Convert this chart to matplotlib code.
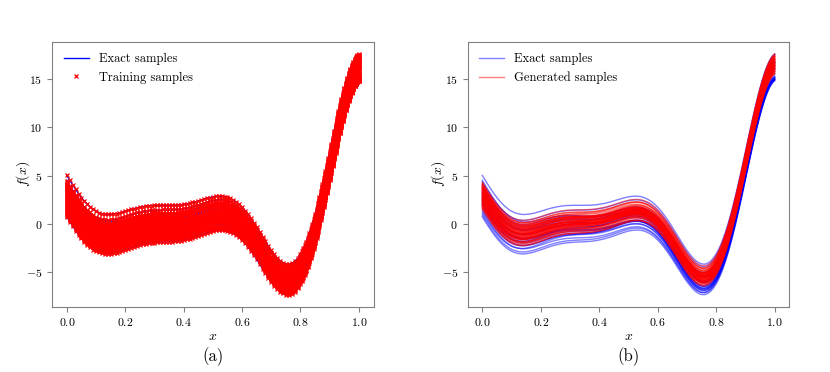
import matplotlib
matplotlib.use("Agg")
import matplotlib.pyplot as plt
import numpy as np

plt.rcParams['font.family'] = 'serif'
plt.rcParams['font.serif'] = ['cmr10', 'DejaVu Serif']
plt.rcParams['mathtext.fontset'] = 'cm'
plt.rcParams['axes.formatter.use_mathtext'] = True
plt.rcParams['axes.unicode_minus'] = True

# x positions of the samples
x_grid = [0.00, 0.01, 0.02, 0.03, 0.04, 0.05, 0.06, 0.07, 0.08, 0.09,
          0.10, 0.11, 0.12, 0.13, 0.14, 0.15, 0.16, 0.17, 0.18, 0.19,
          0.20, 0.21, 0.22, 0.23, 0.24, 0.25, 0.26, 0.27, 0.28, 0.29,
          0.30, 0.31, 0.32, 0.33, 0.34, 0.35, 0.36, 0.37, 0.38, 0.39,
          0.40, 0.41, 0.42, 0.43, 0.44, 0.45, 0.46, 0.47, 0.48, 0.49,
          0.50, 0.51, 0.52, 0.53, 0.54, 0.55, 0.56, 0.57, 0.58, 0.59,
          0.60, 0.61, 0.62, 0.63, 0.64, 0.65, 0.66, 0.67, 0.68, 0.69,
          0.70, 0.71, 0.72, 0.73, 0.74, 0.75, 0.76, 0.77, 0.78, 0.79,
          0.800, 0.805, 0.810, 0.815, 0.820, 0.825, 0.830, 0.835, 0.840, 0.845,
          0.850, 0.855, 0.860, 0.865, 0.870, 0.875, 0.880, 0.885, 0.890, 0.895,
          0.900, 0.905, 0.910, 0.915, 0.920, 0.925, 0.930, 0.935, 0.940, 0.945,
          0.950, 0.955, 0.960, 0.965, 0.970, 0.975, 0.980, 0.985, 0.990, 0.995,
          1.000]
# central curve of the sample band
base_curve = [3.03, 2.53, 2.05, 1.58, 1.14, 0.74, 0.37, 0.05, -0.23, -0.47,
              -0.66, -0.80, -0.90, -0.96, -0.99, -0.98, -0.94, -0.89, -0.82, -0.73,
              -0.64, -0.55, -0.45, -0.36, -0.28, -0.21, -0.15, -0.10, -0.06, -0.03,
              -0.02, -0.01, 0.00, 0.00, 0.00, 0.00, 0.01, 0.02, 0.04, 0.07,
              0.12, 0.17, 0.23, 0.31, 0.39, 0.48, 0.58, 0.67, 0.76, 0.84,
              0.91, 0.96, 0.98, 0.98, 0.95, 0.87, 0.76, 0.60, 0.40, 0.15,
              -0.15, -0.49, -0.87, -1.29, -1.74, -2.21, -2.70, -3.19, -3.68, -4.16,
              -4.61, -5.01, -5.37, -5.66, -5.87, -5.99, -6.02, -5.93, -5.73, -5.40,
              -4.95, -4.67, -4.37, -4.03, -3.66, -3.25, -2.82, -2.36, -1.87, -1.35,
              -0.80, -0.23, 0.37, 0.98, 1.62, 2.27, 2.94, 3.62, 4.31, 5.01,
              5.71, 6.42, 7.12, 7.82, 8.51, 9.19, 9.86, 10.50, 11.12, 11.73,
              12.30, 12.85, 13.35, 13.83, 14.26, 14.65, 14.99, 15.28, 15.52, 15.70,
              15.83]

# per-sample shift from the central curve at x=0 and at x=1
exact_shift_left = [2.0, 1.3, 1.0, 0.6, 0.3, 0.0, -0.3, -0.5, -0.7, -0.9,
                    -1.1, -1.3, -1.5, -1.7, -1.9, -2.1, -2.3, 0.9, -0.1, 1.5,
                    -0.4, -1.0, 0.2, -0.6]
exact_shift_right = [1.8, 1.7, 0.5, -0.8, 1.2, -0.6, 0.8, -0.9, 0.3, -0.5,
                     1.0, -0.7, 0.0, -0.9, 0.6, -0.8, -1.0, -0.3, 0.2, -0.6,
                     -0.8, -0.9, 0.9, -0.7]

train_shift_left = [2.0, 1.4, 1.3, 1.2, 1.1, 1.0, 0.9, 0.8, 0.7, 0.6,
                    0.5, 0.4, 0.3, 0.2, 0.1, 0.0, -0.1, -0.2, -0.3, -0.4,
                    -0.5, -0.6, -0.7, -0.8, -0.9, -1.0, -1.1, -1.2, -1.3, -1.4,
                    -1.5, -1.6, -1.7, -1.8, -1.9, -2.0, -2.1, -2.2, -2.3, 0.85]
train_shift_right = [1.8, 1.7, -0.9, 0.4, 1.2, -0.4, 0.9, -0.7, 0.1, 1.5,
                     -1.0, 0.6, -0.2, 1.6, -0.8, 0.3, 1.1, -0.5, 0.7, -0.9,
                     1.4, 0.0, -0.6, 1.0, 0.5, -0.8, 1.3, -0.3, 0.8, -1.0,
                     0.2, 1.6, -0.7, 0.4, -0.9, 1.1, -0.5, 0.6, -1.0, 1.7]

gen_shift_left = [1.3, 1.2, 1.1, 1.0, 0.9, 0.8, 0.75, 0.7, 0.6, 0.55,
                  0.5, 0.4, 0.35, 0.3, 0.2, 0.15, 0.1, 0.05, 0.0, -0.05,
                  -0.1, -0.15, -0.2, -0.3, -0.35, -0.4, -0.5, -0.55, -0.6, -0.7,
                  -0.75, -0.8, -0.9, -1.0, -1.1, -1.2, 0.45, -0.25, 0.25, -0.45,
                  -1.3, -1.4, -1.5, -0.65, -0.85, 0.65, 0.85, -1.15, -0.95, 1.05]
gen_shift_right = [1.8, 0.2, 1.5, 0.0, 1.2, 0.6, 1.7, -0.2, 0.9, 0.4,
                   1.4, -0.3, 0.7, 1.1, 0.1, 1.6, 0.5, 0.8, -0.1, 0.3,
                   1.0, 0.2, 1.3, 0.6, 0.9, 1.5, 0.4, 1.1, 0.0, 0.7,
                   1.2, 0.3, 1.6, -0.2, 0.8, 0.5, 1.0, 1.3, 0.6, 0.9,
                   0.4, 0.0, 0.2, 1.4, 0.9, 1.0, 0.5, 0.7, 1.2, 1.5]

xg = np.array(x_grid)
bc = np.array(base_curve)

def sample(a, b):
    return bc + a * (1 - xg) + b * xg

fig = plt.figure(figsize=(8.3, 3.72), dpi=100)
ax1 = fig.add_axes([0.063, 0.1755, 0.387, 0.712])
ax2 = fig.add_axes([0.5635, 0.1755, 0.3875, 0.712])

# Panel (a)
for i, (a, b) in enumerate(zip(exact_shift_left, exact_shift_right)):
    ax1.plot(xg, sample(a, b), color='blue', lw=1,
             label='Exact samples' if i == 0 else None)
for i, (a, b) in enumerate(zip(train_shift_left, train_shift_right)):
    ax1.plot(xg, sample(a, b), 'x', color='red', ms=3.5, mew=0.9,
             label='Training samples' if i == 0 else None)

# Panel (b)
for i, (a, b) in enumerate(zip(exact_shift_left, exact_shift_right)):
    ax2.plot(xg, sample(a, b), color='blue', lw=1, alpha=0.5,
             label='Exact samples' if i == 0 else None)
for i, (a, b) in enumerate(zip(gen_shift_left, gen_shift_right)):
    ax2.plot(xg, sample(a, b), color='red', lw=1, alpha=0.5,
             label='Generated samples' if i == 0 else None)

for ax, lab in [(ax1, '(a)'), (ax2, '(b)')]:
    ax.set_xlabel('$x$', fontsize=10, labelpad=2)
    ax.set_ylabel('$f(x)$', fontsize=10, labelpad=-4)
    ax.set_xticks([0.0, 0.2, 0.4, 0.6, 0.8, 1.0])
    ax.set_yticks([-5, 0, 5, 10, 15])
    ax.tick_params(labelsize=8.5, color='#808080')
    for s in ax.spines.values():
        s.set_color('#808080')
    ax.legend(loc='upper left', frameon=False, fontsize=9)
    ax.text(0.5, -0.19, lab, transform=ax.transAxes, ha='center', va='center',
            fontsize=12)

fig.savefig('out.png', dpi=100)
